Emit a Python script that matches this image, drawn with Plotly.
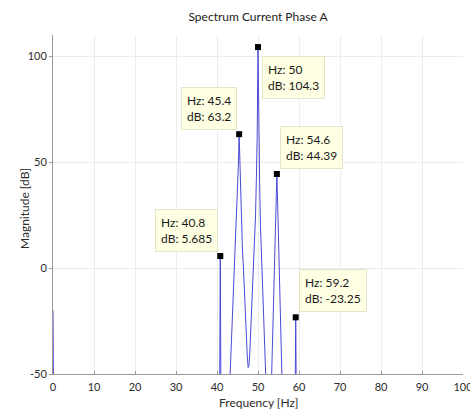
import plotly.graph_objects as go

# Spectrum of phase-A current (frequency in Hz, magnitude in dB)
freq_hz = [0, 0.2, 40.6, 40.8, 41.0,
           43.0, 43.2, 43.4, 43.6, 43.8, 44.0, 44.2, 44.4, 44.6, 44.8, 45.0, 45.2,
           45.4, 45.6, 45.8, 46.0, 46.2, 46.4, 46.6, 46.8, 47.0, 47.2, 47.4, 47.6,
           47.8, 48.0, 48.2, 48.4, 48.6, 48.8, 49.0, 49.2, 49.4, 49.6, 49.8, 50.0,
           50.2, 50.4, 50.6, 50.8, 51.0, 51.2, 51.4, 51.6, 51.8, 52.2, 52.6, 53.0,
           53.2, 53.4, 53.6, 53.8, 54.0, 54.2, 54.4, 54.6, 54.8, 55.0, 55.2, 55.4,
           55.6, 55.8, 56.0, 56.2, 59.0, 59.2, 59.4, 100]
mag_db = [-20, -80, -80, 5.685, -80,
          -60, -50, -40, -31, -22, -13, -5, 2.5, 11, 21, 33, 48,
          63.2, 46, 31, 19, 9, 2, -8, -17, -26, -35, -42, -47,
          -46, -40, -31, -22, -13, -5, 2.5, 12, 25, 42, 62, 104.3,
          62, 40, 20, 8, -4, -18, -32, -45, -60, -80, -90, -75,
          -60, -55, -38, -20, 2, 18, 32, 44.39, 30, 14, 2, -18,
          -34, -50, -65, -80, -80, -23.25, -80, -80]

# Data tips on the spectral peaks
peak_hz = [40.8, 45.4, 50, 54.6, 59.2]
peak_db = [5.685, 63.2, 104.3, 44.39, -23.25]
tip_side = ["ul", "ul", "dr", "ur", "ur"]

x_ticks = [0, 10, 20, 30, 40, 50, 60, 70, 80, 90, 100]
y_ticks = [-50, 0, 50, 100]

font_family = "Lato, 'Open Sans', sans-serif"
text_color = "#2b2b2b"

fig = go.Figure()
fig.add_trace(go.Scatter(
    x=freq_hz, y=mag_db, mode="lines",
    line=dict(color="#4a4ad8", width=1),
    hoverinfo="skip", showlegend=False,
))
fig.add_trace(go.Scatter(
    x=peak_hz, y=peak_db, mode="markers",
    marker=dict(symbol="square", size=6, color="black"),
    cliponaxis=False, showlegend=False,
))

tip_layout = {
    "ul": dict(xanchor="right", yanchor="bottom", xshift=-2, yshift=4),
    "ur": dict(xanchor="left", yanchor="bottom", xshift=3, yshift=5),
    "dr": dict(xanchor="left", yanchor="top", xshift=4, yshift=-9),
}
for hz, db, side in zip(peak_hz, peak_db, tip_side):
    fig.add_annotation(
        x=hz, y=db, xref="x", yref="y",
        text=f"Hz: {hz:g}<br>dB: {db:g}",
        showarrow=False, align="left",
        bgcolor="#ffffe3", bordercolor="#e4e4cc", borderwidth=1, borderpad=5,
        font=dict(family=font_family, size=12, color="#1a1a1a"),
        **tip_layout[side],
    )

# Axis titles placed as paper annotations
fig.add_annotation(
    text="Frequency [Hz]", xref="paper", yref="paper",
    x=0.5, y=-0.083, xanchor="center", yanchor="middle", showarrow=False,
    font=dict(family=font_family, size=12, color=text_color),
)
fig.add_annotation(
    text="Magnitude [dB]", xref="paper", yref="paper", textangle=-90,
    x=-0.068, y=0.487, xanchor="center", yanchor="middle", showarrow=False,
    font=dict(family=font_family, size=12, color=text_color),
)

fig.update_layout(
    width=470, height=412,
    margin=dict(l=53, r=7, t=35, b=38, autoexpand=False),
    paper_bgcolor="white", plot_bgcolor="white",
    font=dict(family=font_family, size=11, color=text_color),
    title=dict(
        text="Spectrum Current Phase A",
        x=0.5, xref="paper", xanchor="center",
        y=1 - 16.5 / 412, yref="container", yanchor="middle",
        font=dict(family=font_family, size=12, color="#222222"),
    ),
)
fig.update_xaxes(
    range=[0, 100], tickvals=x_ticks, ticktext=[str(v) for v in x_ticks],
    showgrid=True, gridcolor="#ececec", gridwidth=1,
    showline=True, linecolor="#9a9a9a", linewidth=1, layer="below traces",
    ticks="inside", ticklen=3, tickcolor="#9a9a9a", ticklabelstandoff=3,
    ticklabeloverflow="allow", automargin=False,
    zeroline=False, tickfont=dict(size=11, color=text_color),
)
fig.update_yaxes(
    range=[-50, 110], tickvals=y_ticks, ticktext=[str(v) for v in y_ticks],
    showgrid=True, gridcolor="#ececec", gridwidth=1,
    showline=True, linecolor="#9a9a9a", linewidth=1, layer="below traces",
    ticks="outside", ticklen=3, tickcolor="#9a9a9a", automargin=False,
    zeroline=False, tickfont=dict(size=11, color=text_color),
)

fig.write_html("out.html")
